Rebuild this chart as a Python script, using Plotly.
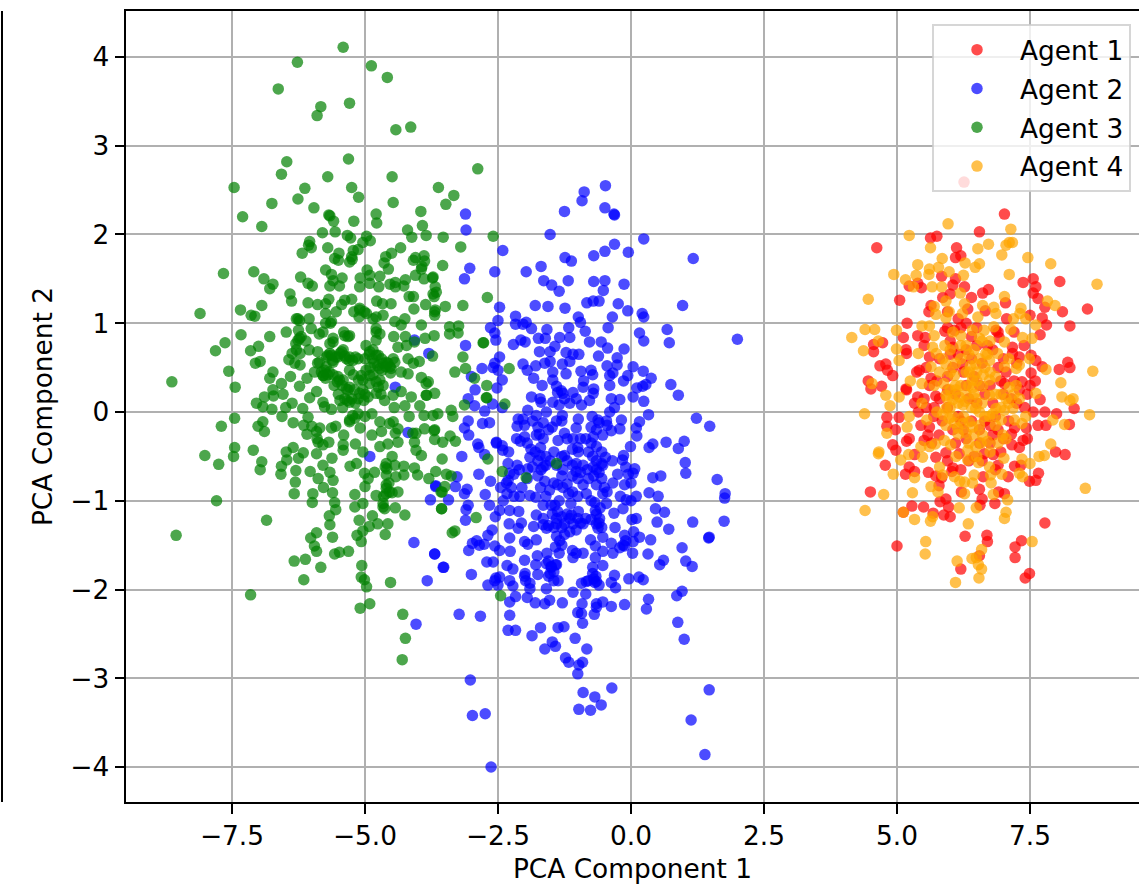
import plotly.graph_objects as go

agent_names = ["Agent 1", "Agent 2", "Agent 3", "Agent 4"]
agent_colors = ["rgb(255,0,0)", "rgb(0,0,255)", "rgb(0,128,0)", "rgb(255,165,0)"]
x_tick_values = [-7.5, -5.0, -2.5, 0.0, 2.5, 5.0, 7.5]
x_tick_labels = ["−7.5", "−5.0", "−2.5", "0.0", "2.5", "5.0", "7.5"]
y_tick_values = [-4, -3, -2, -1, 0, 1, 2, 3, 4]
y_tick_labels = ["−4", "−3", "−2", "−1", "0", "1", "2", "3", "4"]

agent1_points = [
(6.26,2.59),(7.02,2.23),(6.55,2.03),(5.63,1.96),(5.75,1.98),(4.62,1.85),(6.12,1.85),(6.10,1.74),(6.20,1.76),(5.84,1.53),
(6.10,1.50),(5.23,1.42),(5.39,1.45),(5.46,1.40),(6.05,1.43),(6.27,1.41),(6.0,1.33),(5.86,1.29),(6.40,1.29),(6.61,1.34),
(6.72,1.38),(7.37,1.46),(7.56,1.50),(7.61,1.41),(8.06,1.47),(7.56,1.34),(7.65,1.28),(5.05,1.26),(7.04,1.23),(7.78,1.18),
(8.11,1.13),(8.58,1.16),(6.66,1.14),(5.64,1.20),(5.60,1.13),(6.33,1.16),(5.95,1.13),(5.19,1.0),(7.06,1.05),(7.5,1.09),
(7.73,1.06),(7.81,.98),(8.25,.97),(7.69,.87),(5.90,.91),(6.08,.92),(5.39,.86),(5.53,.84),(5.12,.84),(4.56,.76),
(4.73,.78),(4.56,.68),(5.17,.70),(5.18,.66),(5.51,.75),(6.05,.73),(5.61,.62),(7.17,.73),(7.39,.75),(7.17,.66),
(7.30,.62),(7.52,.64),(7.61,.58),(8.05,.48),(8.21,.56),(8.25,.50),(7.73,.51),(6.23,.54),(6.86,.92),(6.92,.84),
(4.79,.54),(4.68,.52),(4.82,.47),(4.92,.41),(5.37,.45),(5.42,.47),(7.52,.44),(4.46,.35),(4.71,.29),(4.51,.26),
(5.17,.26),(5.61,.30),(7.02,.32),(7.35,.34),(5.64,.38),(5.18,.25),(5.39,.17),(5.33,.10),(5.51,.15),(5.73,.18),
(7.69,.14),(7.56,.0),(7.78,0),(8.0,-.02),(8.33,.04),(8.24,-.14),(4.81,-.06),(5.04,-.06),(4.81,-.16),(4.97,-.20),
(5.69,-.05),(5.61,-.17),(5.23,-.30),(5.18,-.33),(5.58,-.26),(5.51,-.32),(4.92,-.37),(4.98,-.43),(4.78,-.60),(5.33,-.48),
(5.23,-.62),(5.16,-.70),(5.33,-.67),(5.73,-.51),(5.92,-.46),(5.79,-.26),(5.59,-.68),(5.73,-.72),(5.84,-.74),(5.79,-.83),
(6.05,-.63),(6.03,-.67),(6.21,-.90),(6.17,-.47),(6.64,-.47),(6.81,-.48),(6.90,-.60),(6.62,-.73),(6.55,-.87),(7.09,-.73),
(7.21,-.61),(7.33,-.60),(7.66,-.69),(7.49,-.78),(7.61,-.77),(7.98,-.45),(8.16,-.48),(7.37,-.32),(7.16,-.37),(7.21,-.18),
(7.43,-.18),(6.80,-.26),(6.91,-.90),(7.02,-.92),(6.84,-1.03),(6.60,-.98),(6.56,-1.05),(4.5,-.90),(5.81,-1.01),(5.92,-.98),
(5.97,-1.07),(5.28,-1.06),(5.50,-1.07),(5.12,-1.13),(5.68,-1.14),(5.88,-1.16),(6.0,-1.18),(7.78,-1.25),(6.28,-1.40),(6.69,-1.39),
(6.70,-1.46),(7.34,-1.45),(7.22,-1.52),(5.0,-1.51),(7.22,-1.64),(6.55,-1.62),(6.20,-1.77),(7.49,-1.82),(7.41,-1.87),
(6.4,.6),(6.6,.55),(6.9,.5),(6.3,.3),(6.1,.2),(6.75,.3),(7.0,.2),(7.15,.15),(6.5,.1),(6.2,-.1),(6.85,-.05),(7.1,-.1),
(6.55,-.2),(6.3,-.3),(5.95,.05),(6.05,-.2),(5.8,.15),(7.25,.1),(7.4,.05),(6.9,.9),(6.7,.75),(6.4,.85),(6.2,.95),(6.0,.8),
(6.55,-.35),(6.75,-.35),(7.0,-.3),(6.35,-.55),(5.95,.4),(6.15,.65),
(5.95,.25),(6.05,.5),(6.25,.45),(6.35,.15),(6.45,.4),(6.55,.3),(6.65,.2),(6.8,.1),(6.95,.35),(7.05,.45),(7.2,.35),(7.3,.25),
(7.45,.2),(6.15,-.05),(6.25,-.2),(6.4,-.1),(6.65,-.1),(6.75,-.15),(6.9,-.2),(7.15,-.25),(7.3,-.4),(5.85,-.1),(5.7,.05),(5.75,.35),
(5.55,.5),(5.8,.6),(6.0,.65),(6.3,.7),(6.5,.75),(6.8,.7),(7.0,.6),(7.25,.55),(6.45,-.5),(6.6,-.55),(6.95,-.45),(6.85,-.65),
(6.2,-.65),(6.1,-.35),(5.95,-.55),(5.65,-.35),(5.45,-.15),(5.4,.0),(5.55,.05),(7.5,.3),(7.6,.35),(7.65,-.15),(7.45,-.3),(7.8,-.15),
(6.15,1.05),(6.3,1.0),(6.5,.95),(5.95,.95),(7.2,.9),
]

agent2_points = [
(-.48,2.55),(-.88,2.48),(-.92,2.38),(-.49,2.30),(-.32,2.23),(-.31,2.22),(-1.25,2.26),(-3.11,2.23),(-3.10,2.05),(-1.52,2.0),
(.24,1.95),(-.31,1.89),(-.49,1.81),(-.05,1.80),(-2.41,1.82),(-.70,1.76),(-1.24,1.74),(-1.12,1.70),(1.17,1.73),(-1.69,1.64),
(-3.03,1.62),(-2.56,1.58),(-1.97,1.58),(-3.13,1.50),(-1.64,1.48),(-1.18,1.48),(-.70,1.47),(-.49,1.48),(-1.49,1.43),(-.13,1.44),
(-1.35,1.36),(-.52,1.37),(-.60,1.25),(-.71,1.25),(-.83,1.23),(-.24,1.22),(-1.80,1.20),(-1.56,1.19),(-1.24,1.17),(-2.47,1.18),
(.97,1.20),(-.06,1.14),(.21,1.11),(.24,1.07),(-2.17,1.08),(-.99,1.07),(-.35,1.07),(-2.5,1.03),(-1.97,1.01),(-2.17,.99),
(-2.03,.99),(-.95,1.01),(-2.64,.95),(-1.87,.94),(-1.58,.93),(-1.17,.95),(-.43,.95),(.68,.93),(-.86,.91),(.16,.89),
(-2.56,.89),(-2.54,.81),(-1.15,.84),(-1.34,.84),(-1.74,.83),(-1.61,.83),(-2.07,.81),(-1.99,.79),(-2.21,.76),(-.78,.79),
(-.56,.79),(-.44,.72),(.24,.80),(.72,.78),(2.0,.82),(-3.11,.75),(-1.43,.74),(-1.72,.68),(-1.52,.68),(-1.22,.67),
(-1.09,.65),(-.98,.65),(-.13,.71),(-.61,.63),(-.26,.61),(-2.47,.62),(-2.56,.55),(-2.59,.50),(-2.5,.47),(-2.80,.49),
(-2.03,.54),(-1.79,.52),(-1.95,.47),(-1.62,.55),(-1.52,.57),(-1.29,.54),(-1.15,.57),(-.45,.52),(-.26,.53),(.04,.51),
(-1.47,.45),(-1.22,.43),(-.94,.46),(-.75,.47),(-.72,.42),(-.40,.41),(-.34,.44),(.23,.46),(-.06,.41),(-3.0,.40),
(.38,.38),(-.14,.35),(-1.83,.38),(-1.47,.36),(-2.42,.36),(-.89,.35),(-1.67,.30),(-1.40,.29),(-.40,.30),(.11,.27),
(.22,.29),(.28,.31),(.75,.31),(-2.93,.25),(-2.52,.27),(-.90,.28),(-.70,.26),(-1.31,.24),(-1.28,.21),(-1.09,.22),
(-.71,.21),(.89,.19),(-1.87,.17),(-1.71,.15),(-1.69,.11),(-1.47,.11),(-1.35,.08),(-1.03,.15),(-.93,.08),(-.78,.13),
(-.37,.15),(-.21,.14),(.04,.17),(.24,.12),(-.31,.05),(-3.06,.15),(-2.94,.07),(-2.6,.09),(-2.42,.05),(-1.94,.02),
(-2.75,.01),(.33,-.03),(1.23,-.07),(1.48,-.16),(.16,-.11),(-.18,-.09),(-.46,-.10),(-.62,-.09),(-.73,-.05),(-.99,-.08),
(-1.29,-.04),(-1.59,0),(-1.78,-.04),(-2.12,-.08),(-2.03,-.08),(-3.06,-.10),(-2.79,-.13),(-2.66,-.12),(-3.13,-.18),(-3.05,-.26),
(-2.14,-.16),(-1.75,-.17),(-1.48,-.17),(-1.25,-.24),(-1.03,-.18),(-.75,-.17),(-.37,-.21),(-.21,-.19),(.10,-.18),(.11,-.27),
(-.53,-.26),(-.71,-.28),(-2,-.28),(-1.78,-.26),(-2.08,-.33),(-2.53,-.34),(-2.42,-.38),(-2.88,-.36),(-2.86,-.40),(-1.37,-.32),
(-1.09,-.30),(-.65,-.39),(-.99,-.45),(-.01,-.39),(.34,-.40),(.41,-.36),(.66,-.34),(.89,-.41),(1.0,-.33),(1.02,-.57),
(-3.18,-.5),(-2.75,-.48),(-1.9,-.51),(-1.71,-.49),(-1.25,-.49),(-1.03,-.58),(-.14,-.49),(-.16,-.54),(-.48,-.51),(-2.31,-.58),
(-2.14,-.6),(-1.65,-.62),(-.71,-.62),(-.53,-.60),(.07,-.64),(1.03,-.69),(1.62,-.76),(.41,-.74),(.56,-.72),(1.77,-.92),
(1.76,-.97),(-2.86,-.70),(-2.64,-.78),(-3.27,-.73),(-2.34,-.80),(-2.28,-.69),(-2.33,-.92),(-2.74,-.93),(-3.13,-.92),(-3.08,-.87),
(-3.30,-.84),(-3.67,-.84),(-3.43,-.99),(-2.09,-.95),(-1.90,-.94),(-1.79,-.96),(-1.53,-.88),(-1.45,-.80),(-1.20,-.81),(-1.17,-.92),
(-.84,-.92),(-.90,-.82),(-.65,-.82),(-.53,-.92),(-.46,-1.03),(-.34,-.80),(-.12,-.82),(.04,-.69),(.10,-.95),(.34,-.91),
(.51,-.95),(-.09,-.99),(-.65,-.65),(-1.03,-.67),(-1.28,-.65),(-1.69,-.65),(-1.94,-.64),(-2.66,-1.05),(-3.06,-1.05),(-3.10,-1.10),
(-2.47,-1.11),(-2.28,-1.11),(-2.11,-1.12),(-1.78,-1.16),(-1.43,-1.05),(-1.13,-1.03),(-1.65,-1.05),(-.67,-1.11),(-.99,-1.12),(-1.12,-1.16),
(-.15,-1.09),(-.32,-1.14),(.46,-1.09),(.63,-1.13),(-2.55,-1.18),(-3.11,-1.22),(-2.29,-1.26),(-2.06,-1.25),(-1.83,-1.29),(-1.65,-1.27),
(-1.59,-1.31),(-1.40,-1.26),(-1.25,-1.26),(-1.09,-1.26),(-1.03,-1.33),(-.90,-1.26),(-.75,-1.21),(-.59,-1.20),(-.65,-1.26),(.02,-1.21),
(.49,-1.24),(1.16,-1.24),(1.75,-1.23),(.71,-1.32),(-2.61,-1.33),(-2.69,-1.39),(-2.12,-1.31),(-.62,-1.31),(-.53,-1.41),(-.12,-1.39),
(.16,-1.41),(.37,-1.44),(1.47,-1.41),(1.46,-1.42),(-2.28,-1.42),(-1.78,-1.44),(-1.40,-1.40),(-1.34,-1.45),(-2.0,-1.46),(-1.94,-1.49),
(-2.98,-1.48),(-2.76,-1.49),(-2.56,-1.51),(-3.05,-1.56),(-2.47,-1.56),(-2.27,-1.57),(-.76,-1.44),(-.67,-1.51),(-.37,-1.48),(-.21,-1.53),
(-.12,-1.51),(.04,-1.46),(.03,-1.59),(-.34,-1.59),(-.53,-1.57),(-1.10,-1.56),(-1.03,-1.59),(-.9,-1.59),(-1.09,-1.64),(-.67,-1.64),
(-1.35,-1.59),(-1.58,-1.59),(-1.76,-1.62),(.32,-1.60),(.96,-1.53),(1.03,-1.68),(.61,-1.67),(.54,-1.72),(1.15,-1.74),(-3.69,-1.60),
(-2.71,-1.69),(-2.59,-1.69),(-2.0,-1.67),(-3.52,-1.75),(-2.33,-1.73),(-2.22,-1.77),(-1.79,-1.72),(-1.59,-1.71),(-1.50,-1.74),(-1.42,-1.72),
(-1.52,-1.82),(-1.75,-1.83),(-1.99,-1.82),(-.53,-1.73),(-3.0,-1.83),(-2.47,-1.86),(-2.56,-1.90),(-2.28,-1.90),(-1.98,-1.90),(-2.69,-1.95),
(-2.22,-1.96),(-1.90,-1.99),(-1.59,-1.99),(-1.37,-1.90),(-.93,-1.93),(-.84,-1.91),(-.66,-1.85),(-.65,-1.91),(-.31,-1.84),(-.37,-1.92),
(-.29,-1.98),(-.04,-1.88),(.15,-1.86),(.23,-1.89),(-1.09,-2.03),(-.85,-2.05),(.96,-2.02),(.86,-2.07),(.33,-2.11),(.29,-2.22),
(-.12,-2.17),(-.37,-2.19),(-.53,-2.14),(-.65,-2.16),(-.65,-2.20),(-.92,-2.16),(-1.29,-2.15),(-1.53,-2.12),(-1.62,-2.16),(-1.80,-2.15),
(-1.95,-2.09),(-2.17,-2.08),(-2.28,-2.14),(-1.0,-2.26),(-.93,-2.27),(-.69,-2.28),(-3.23,-2.28),(-2.83,-2.30),(-2.28,-2.29),(-.91,-2.38),
(.88,-2.37),(1.0,-2.56),(-1.70,-2.43),(-1.37,-2.43),(-1.26,-2.42),(-2.31,-2.46),(-2.17,-2.46),(-1.86,-2.52),(-1.05,-2.55),(-1.48,-2.59),
(-1.42,-2.64),(-1.62,-2.67),(-.83,-2.67),(-1.23,-2.77),(-1.17,-2.82),(-.91,-2.82),(-.98,-2.85),(-1.0,-2.95),(-3.02,-3.02),(-.36,-3.11),
(-.90,-3.16),(1.47,-3.13),(-.68,-3.21),(-.56,-3.30),(-.98,-3.35),(-.76,-3.36),(1.13,-3.47),(-2.98,-3.42),(-2.74,-3.40),(1.39,-3.86),
(-2.63,-4.0),(-4.43,.28),(-4.07,.81),(-3.80,.66),(-4.19,-.23),(-4.91,-.50),(-3.77,-.99),(-3.67,-.83),(-4.08,-1.47),(-3.69,-1.60),
(-3.53,-1.75),(-3.83,-1.90),(-4.04,-2.39),(-2.53,-.35),(-2.41,-.43),(-2.31,-.77),(-2.54,-1.87),
(-1.8,-.45),(-1.75,-.55),(-1.6,-.6),(-1.45,-.45),(-1.4,-.6),(-1.3,-.72),(-1.2,-.55),(-1.1,-.72),(-1.0,-.75),(-.9,-.6),
(-.8,-.75),(-.7,-.72),(-.6,-.68),(-.55,-.75),(-.5,-.85),(-.45,-.9),(-1.95,-.75),(-2.05,-.85),(-2.2,-.7),(-2.25,-.85),
(-1.7,-.85),(-1.6,-.95),(-1.5,-1.05),(-1.35,-1.0),(-1.2,-1.15),(-1.15,-1.2),(-1.0,-1.2),(-.95,-1.25),(-.85,-1.2),(-.65,-1.15),
(-.6,-1.25),(-.55,-1.3),(-1.65,-1.2),(-1.55,-1.28),(-1.45,-1.3),(-1.4,-1.2),(-1.3,-1.3),(-1.5,-1.75),(-1.45,-1.8),(-1.55,-1.68),
(-1.4,-1.72),(-.7,-1.88),(-.72,-1.82),(-.68,-1.92),(-.75,-.35),(-.85,-.3),(-.95,-.3),(-1.0,-.4),(-1.1,-.42),(-1.2,-.3),
(-1.3,-.1),(-1.4,-.1),(-1.55,-.2),(-1.65,-.3),(-1.7,-.4),(-.45,-.15),(-.55,-.45),(-.35,-.55),(-.25,-.7),(-.05,-.7),
(-.1,-.62),(0,-.8),(-2.3,-.45),(-2.15,-.3),(-1.85,-.1),(-2.0,-.15),(-2.2,-.95),(-2.4,-1.0),(-2.45,-.85),(-.4,.0),
(-1.15,.1),(-1.25,.15),(-1.38,.22),(-.2,-.95),(.0,-1.0),(-.3,-1.3),(.1,-1.2),(-.1,-1.45),(-.15,-1.5),(-2.0,-1.85),
(-1.9,-1.93),(-2.5,-1.95),(-2.9,-1.45),(-2.85,-1.5),
(-.8,-.45),(-.72,-.5),(-1.95,-.35),(-1.88,-.42),(-1.6,-.5),(-1.52,-.55),(-1.3,-.5),(-1.1,-.6),(-.95,-.68),(-.82,-.65),
(-.65,-.55),(-.55,-.58),(-1.85,-.62),(-1.75,-.72),(-1.62,-.78),(-1.38,-.82),(-1.28,-.85),(-1.1,-.9),(-1.0,-.95),(-.75,-1.0),
(-.68,-1.02),(-.58,-1.08),(-1.48,-1.15),(-1.38,-1.12),(-1.3,-1.18),(-1.25,-1.38),(-1.15,-1.35),(-1.42,-1.52),(-1.3,-1.5),(-.6,-.12),
(-.65,-.2),(-1.65,-.12),(-1.72,-.25),(-1.55,-1.85),(-1.45,-1.9),(-.72,-1.75),(-.8,-1.9),(-.6,-1.95),(.05,-1.35),(-2.1,-.65),
]

agent3_points = [
(-5.41,4.11),(-6.27,3.94),(-4.88,3.90),(-4.58,3.77),(-6.63,3.64),(-5.83,3.44),(-5.29,3.48),(-5.90,3.34),(-4.42,3.18),(-4.14,3.21),
(-5.31,2.85),(-6.47,2.82),(-6.57,2.68),(-2.88,2.74),(-5.70,2.65),(-4.49,2.65),(-7.46,2.53),(-6.13,2.52),(-5.25,2.53),(-3.62,2.53),
(-6.26,2.40),(-5.12,2.42),(-3.33,2.44),(-6.75,2.35),(-4.47,2.36),(-3.48,2.34),(-5.96,2.30),(-7.30,2.20),(-5.68,2.22),(-5.66,2.21),
(-3.95,2.26),(-4.79,2.23),(-5.59,2.15),(-5.21,2.15),(-4.78,2.13),(-6.94,2.09),(-3.92,2.10),(-4.20,2.05),(-5.80,2.02),(-5.56,2.03),
(-5.33,1.99),(-5.27,1.96),(-4.97,1.98),(-4.90,1.93),(-4.12,1.97),(-3.85,1.99),(-3.53,1.97),(-2.59,1.98),(-3.20,1.86),(-6.04,1.92),
(-6.06,1.88),(-6.01,1.85),(-5.70,1.85),(-6.18,1.79),(-5.04,1.91),(-5.13,1.83),(-5.22,1.82),(-4.33,1.85),(-4.50,1.79),(-5.49,1.79),
(-5.57,1.73),(-5.50,1.71),(-5.25,1.75),(-5.29,1.69),(-5.24,1.72),(-4.61,1.75),(-4.64,1.68),(-4.56,1.61),(-4.05,1.74),(-3.89,1.76),
(-4.09,1.71),(-3.88,1.70),(-3.93,1.64),(-3.94,1.61),(-3.54,1.65),(-7.66,1.56),(-7.09,1.58),(-6.90,1.50),(-6.73,1.44),(-6.79,1.39),
(-6.21,1.52),(-6.07,1.45),(-5.99,1.42),(-5.74,1.60),(-5.63,1.55),(-5.43,1.51),(-5.60,1.48),(-5.66,1.42),(-5.48,1.42),(-4.96,1.60),
(-4.91,1.54),(-5.09,1.51),(-4.72,1.53),(-5.10,1.41),(-4.91,1.45),(-4.74,1.41),(-4.43,1.46),(-4.53,1.44),(-4.43,1.41),(-4.24,1.49),
(-4.27,1.42),(-4.05,1.54),(-3.89,1.50),(-3.73,1.51),(-3.68,1.41),(-3.66,1.35),(-3.70,1.30),(-4.17,1.30),(-4.09,1.30),(-2.70,1.29),
(-6.41,1.33),(-6.38,1.25),(-6.94,1.20),(-6.07,1.23),(-5.89,1.21),(-5.68,1.27),(-5.74,1.22),(-5.38,1.26),(-5.25,1.27),(-5.44,1.21),
(-4.78,1.25),(-4.67,1.22),(-4.51,1.22),(-4.08,1.16),(-3.86,1.21),(-3.68,1.15),(-3.49,1.19),(-3.16,1.20),(-7.34,1.15),(-8.10,1.11),
(-7.14,1.09),(-7.07,1.08),(-6.26,1.05),(-6.05,1.05),(-5.74,1.11),(-5.54,1.13),(-5.74,1.00),(-5.63,1.02),(-5.21,1.13),(-5.10,1.15),
(-4.97,1.11),(-5.11,1.07),(-4.79,1.07),(-4.66,1.09),(-4.25,1.05),(-4.44,1.02),(-4.32,.98),(-3.94,.98),(-3.41,.96),(-3.24,.97),
(-3.25,.89),(-3.41,.88),(-7.33,.87),(-6.79,.85),(-6.48,.90),(-7.63,.78),(-7.81,.69),(-7.0,.74),(-7.15,.69),(-7.56,.46),
(-6.97,.57),(-7.06,.55),(-8.63,.34),(-7.44,.28),(-6.23,.83),(-6.30,.77),(-6.11,.80),(-6.37,.66),(-6.43,.59),(-6.22,.66),
(-6.32,.55),(-6.22,.53),(-6.73,.45),(-6.79,.38),(-6.40,.40),(-6.57,.32),(-6.23,.29),(-6.09,.38),(-6.73,.25),(-6.89,.17),
(-6.54,.20),(-6.72,.18),(-7.04,.10),(-6.92,.06),(-6.75,.03),(-6.37,.10),(-6.49,.05),(-6.17,.04),(-6.04,.16),(-5.91,.23),
(-5.79,.11),(-5.76,.06),(-5.63,.03),(-6.01,.94),(-5.86,.88),(-5.79,.90),(-5.60,.79),(-5.40,.90),(-5.29,.86),(-5.89,.68),
(-5.86,.56),(-5.63,.64),(-5.44,.68),(-5.60,.56),(-5.29,.62),(-5.13,.60),(-5.78,.41),(-5.67,.45),(-5.48,.36),(-5.58,.30),
(-5.29,.47),(-5.07,.41),(-5.32,.25),(-5.10,.21),(-5.47,.13),(-5.33,.13),(-5.18,.10),(-5.02,.13),(-4.79,.90),(-4.79,.81),
(-4.46,.85),(-4.24,.85),(-3.70,.86),(-3.87,.83),(-4.07,.79),(-4.38,.73),(-4.22,.75),(-4.91,.68),(-4.75,.64),(-4.66,.55),
(-4.53,.51),(-4.44,.56),(-4.19,.60),(-4.09,.55),(-3.98,.57),(-3.73,.63),(-3.16,.62),(-2.77,.78),(-3.31,.45),(-3.11,.49),
(-2.94,.38),(-2.71,.30),(-2.71,.16),(-3.13,.08),(-4.32,.45),(-4.19,.43),(-3.94,.39),(-3.81,.34),(-3.69,.21),(-3.84,.19),
(-4.13,.17),(-4.32,.23),(-4.72,.36),(-4.91,.32),(-4.79,.21),(-4.63,.13),(-4.47,.19),(-4.25,.07),(-3.97,.07),(-3.72,-.04),
(-3.63,-.02),(-3.38,.02),(-3.35,-.05),(-3.89,-.04),(-4.17,-.05),(-6.56,-.05),(-6.35,-.12),(-7.45,-.07),(-7.70,-.16),(-6.92,-.11),
(-7.01,-.16),(-6.89,-.22),(-6.07,-.06),(-6.15,-.15),(-6.0,-.16),(-5.85,-.18),(-6.09,-.25),(-5.90,-.30),(-5.79,-.37),(-5.68,-.34),
(-5.63,-.18),(-5.55,-.16),(-5.40,-.26),(-5.29,-.11),(-5.19,-.07),(-5.09,-.18),(-4.87,-.02),(-4.72,-.11),(-4.87,-.26),(-4.69,-.22),
(-4.47,-.11),(-4.38,-.19),(-4.43,-.24),(-4.38,-.34),(-4.57,-.36),(-4.72,-.39),(-4.04,-.24),(-4.07,-.34),(-3.88,-.19),(-3.69,-.20),
(-3.69,-.31),(-3.54,-.34),(-3.40,-.27),(-3.30,-.33),(-4.04,-.43),(-3.94,-.49),(-7.45,-.40),(-7.47,-.50),(-8.01,-.49),(-7.75,-.59),
(-7.10,-.43),(-6.94,-.56),(-6.97,-.65),(-6.58,-.70),(-6.57,-.61),(-6.48,-.45),(-6.35,-.40),(-6.16,-.46),(-6.25,-.52),(-6.47,-.54),
(-6.30,-.66),(-6.31,-.79),(-6.33,-.92),(-6.03,-.67),(-5.88,-.75),(-5.79,-.60),(-5.62,-.52),(-5.66,-.68),(-5.60,-.77),(-5.91,-.47),
(-5.78,-.85),(-5.98,-.92),(-5.61,-.91),(-5.41,-.37),(-5.41,-.43),(-5.18,-.36),(-5.04,-.45),(-5.16,-.58),(-5.28,-.61),(-5.01,-.69),
(-4.82,-.68),(-4.59,-.64),(-4.49,-.50),(-4.44,-.60),(-4.60,-.71),(-4.42,-.73),(-4.27,-.61),(-4.27,-.71),(-4.07,-.63),(-4.01,-.71),
(-3.55,-.53),(-3.67,-.67),(-3.80,-.75),(-3.47,-.70),(-3.38,-.72),(-3.55,-.90),(-3.50,-.84),(-4.94,-.75),(-5.19,-.93),(-5.0,-.84),
(-4.60,-.86),(-4.79,-.94),(-4.38,-.90),(-4.49,-.91),(-4.60,-.92),(-7.79,-1.00),(-5.99,-1.02),(-5.57,-1.02),(-5.55,-1.10),(-5.19,-1.07),
(-5.04,-1.03),(-4.66,-1.07),(-4.43,-1.08),(-4.25,-1.16),(-3.56,-1.09),(-2.91,-1.19),(-4.86,-1.17),(-5.11,-1.22),(-5.67,-1.17),(-5.66,-1.27),
(-4.57,-1.26),(-4.76,-1.26),(-4.92,-1.29),(-5.04,-1.34),(-5.15,-1.39),(-5.07,-1.46),(-4.62,-1.38),(-6.85,-1.22),(-8.55,-1.39),(-5.91,-1.36),
(-6.02,-1.42),(-5.61,-1.41),(-5.95,-1.51),(-5.91,-1.57),(-5.31,-1.57),(-5.48,-1.58),(-5.57,-1.60),(-6.12,-1.66),(-6.33,-1.68),(-5.83,-1.75),
(-6.15,-1.89),(-5.06,-1.73),(-5.07,-1.86),(-5.01,-1.89),(-4.97,-1.97),(-4.52,-1.92),(-7.15,-2.06),(-4.91,-2.16),(-5.09,-2.21),(-4.29,-2.28),
(-4.24,-2.55),(-4.30,-2.79),(-2.45,-2.07),(-3.72,1.52),(-3.72,1.33),(-2.78,.78),(-2.29,.49),(-2.72,.16),(-2.37,.09),(-3.70,-.21),
(-2.69,-.53),(-1.40,-.58),(-3.57,-.9),(-3.56,-1.09),(-3.31,-1.34),(-3.36,-1.36),(-1.97,-.74),(-2.42,-.67),
(-5.70,.64),(-5.61,.58),(-5.51,.62),(-5.41,.70),(-5.35,.60),(-5.23,.58),(-5.73,.51),(-5.79,.41),(-5.74,.38),(-5.51,.40),
(-5.41,.36),(-5.35,.26),(-5.29,.28),(-5.29,.11),(-5.38,.15),(-4.98,.75),(-4.85,.70),(-4.79,.64),(-4.69,.60),(-4.57,.55),
(-4.51,.49),(-4.61,.51),(-4.72,.49),(-4.83,.55),(-4.98,.47),(-5.04,.36),(-4.91,.41),(-4.79,.34),(-4.66,.30),(-5.04,.25),
(-4.94,.17),(-5.13,.15),(-5.23,-.04),(-5.13,-.02),(-5.29,-.09),(-6.29,.70),(-6.26,.81),(-6.20,.85),(-5.89,.55),(-5.82,.45),
(-5.38,.86),(-5.32,.85),(-5.60,.83),(-5.66,.77),(-4.79,.94),(-4.72,.88),(-4.47,.60),(-4.10,-.24),(-4.54,-.13),(-4.60,-.58),
(-4.60,-.82),(-4.54,-.90),(-4.66,-1.03),(-4.63,-1.09),(-5.91,-.22),(-5.88,-.34),(-3.85,.32),(-3.85,.19),(-6.23,1.03),(-6.29,1.05),
(-5.10,1.17),(-5.01,1.13),(-3.69,1.09),(-3.69,1.13),
(-5.72,.62),(-5.66,.66),(-5.55,.62),(-5.47,.66),(-5.38,.63),(-5.30,.58),(-5.18,.62),(-5.76,.47),(-5.7,.42),(-5.6,.42),
(-5.52,.34),(-5.43,.3),(-5.22,.42),(-5.12,.36),(-5.0,.6),(-4.92,.65),(-4.86,.6),(-4.76,.52),(-4.68,.47),(-4.6,.56),
(-4.52,.44),(-4.9,.5),(-4.85,.42),(-4.75,.28),(-4.7,.2),(-5.0,.2),(-5.2,.25),(-5.25,.15),(-5.42,.05),(-5.5,.2),
(-4.62,-.62),(-4.55,-.8),(-4.65,-.95),(-5.65,1.0),(-4.85,1.05),(-6.25,.92),(-6.05,.7),(-5.95,.45),(-5.0,-.05),(-4.45,.05),
]

agent4_points = [
(5.96,2.12),(5.23,1.99),(5.63,1.85),(7.14,2.06),(7.11,1.91),(7.17,1.91),(7.05,1.88),(6.72,1.89),(6.52,1.84),(6.97,1.77),
(5.85,1.73),(7.46,1.74),(7.89,1.67),(5.39,1.66),(6.28,1.68),(6.55,1.67),(6.47,1.63),(5.78,1.63),(5.61,1.61),(5.60,1.55),
(5.98,1.58),(4.94,1.55),(5.36,1.54),(5.16,1.49),(6.25,1.54),(7.11,1.55),(5.66,1.41),(5.84,1.41),(5.31,1.41),(8.76,1.44),
(4.46,1.27),(6.19,1.34),(7.02,1.30),(7.83,1.25),(7.97,1.20),(5.92,1.25),(6.27,1.22),(5.70,1.19),(5.73,1.10),(6.61,1.20),
(6.82,1.18),(6.86,1.11),(7.33,1.17),(7.31,1.11),(5.98,1.13),(6.23,1.11),(5.92,1.06),(6.52,1.07),(7.19,1.05),(7.42,1.05),
(7.61,.98),(5.47,.97),(5.61,.97),(4.40,.93),(4.58,.93),(4.99,.92),(4.15,.84),(4.65,.80),(5.70,.86),(6.82,.96),
(7.14,.93),(7.36,.84),(7.54,.83),(4.37,.69),(4.99,.71),(5.40,.66),(5.04,.58),(7.80,.48),(8.68,.46),(8.08,.33),
(4.53,.32),(5.25,.35),(5.47,.32),(6.20,.86),(6.42,.92),(6.64,.92),(6.55,.83),(6.30,.75),(6.67,.66),(6.89,.66),
(7.02,.79),(5.86,.60),(5.92,.54),(5.64,.51),(6.08,.41),(6.36,.45),(6.48,.54),(6.74,.58),(7.02,.51),(7.24,.49),
(7.30,.53),(7.49,.60),(5.88,.32),(6.42,.36),(6.74,.36),(7.24,.30),(7.11,.28),(5.74,.66),(5.67,.73),(4.79,.19),
(5.04,.17),(4.87,.07),(4.39,-.02),(5.23,-.05),(5.47,.10),(5.56,-.09),(5.19,-.17),(4.81,-.24),(4.65,-.47),(4.66,-.45),
(5.07,-.54),(5.22,-.48),(5.48,-.51),(5.45,-.39),(5.61,-.39),(5.72,-.36),(6.01,-.37),(5.89,-.32),(4.93,-.70),(5.33,-.74),
(6.11,-.50),(6.33,-.54),(6.33,-.43),(5.80,-.62),(5.86,-.71),(6.08,-.73),(6.18,-.78),(5.64,-.84),(5.77,-.90),(6.27,-.79),
(6.45,-.71),(6.42,-.80),(6.27,-.92),(6.74,-.62),(6.76,-.71),(6.77,-.80),(6.53,-.57),(7.01,-.52),(6.97,-.70),(7.30,-.69),
(7.35,-.53),(7.50,-.58),(7.36,-.73),(7.67,-.50),(7.77,-.49),(7.89,-.36),(8.15,-.14),(7.93,-.09),(8.62,-.03),(8.10,.17),
(8.25,.13),(8.31,.15),(8.54,-.86),(4.75,-.93),(5.29,-.91),(4.40,-1.11),(5.12,-1.13),(5.33,-1.21),(5.67,-1.18),(5.63,-1.23),
(6.17,-1.08),(6.49,-1.08),(6.81,-.93),(7.08,-.99),(7.05,-1.13),(7.02,-1.20),(6.34,-1.26),(7.54,-1.46),(5.54,-1.46),(5.53,-1.60),
(6.13,-1.68),(6.41,-1.65),(6.49,-1.64),(6.59,-1.55),(6.53,-1.72),(6.59,-1.77),(6.54,-1.87),(6.10,-1.92),(5.86,-.03),(5.98,-.07),
(5.92,-.15),(6.24,-.13),(6.36,-.11),(6.42,-.17),(6.14,-.18),(6.30,-.24),(6.61,-.26),(6.58,-.35),(6.70,-.33),(6.48,-.39),
(6.99,-.26),(7.05,-.30),(6.96,-.09),(6.74,-.05),(7.21,-.09),(7.35,-.13),(7.02,.02),(6.86,.04),(7.18,.04),(7.42,-.05),
(7.61,.21),(7.30,.15),(6.74,.19),(6.48,.15),(6.17,.17),(5.92,.19),(6.24,.08),(6.48,.04),(5.92,.04),(6.11,.25),
(6.42,.27),(6.61,.29),(7.05,.15),(6.05,.14),(6.3,.2),(6.5,.45),(6.6,.1),(6.2,.3),(6.85,.2),(6.0,.05),
(6.1,.55),(6.2,.6),(6.35,.65),(6.45,.7),(6.55,.6),(6.65,.5),(6.75,.45),(6.85,.4),(6.95,.2),(6.1,.3),
(6.0,.25),(5.95,.15),(6.15,.1),(6.35,.3),(6.45,.2),(6.55,.0),(6.65,-.05),(6.85,-.15),(6.95,.05),(7.1,.1),
(7.2,.2),(6.25,-.05),(6.15,-.25),(6.05,-.05),(6.35,-.35),(6.45,-.25),(6.5,-.5),(6.75,-.45),(6.9,-.35),(6.2,.75),
(6.0,.7),(5.9,.75),(6.05,.9),(6.75,.8),(6.6,.8),(7.1,.6),(6.7,.65),(5.8,.45),(5.7,.3),(5.75,.0),
(6.3,.45),(6.38,.52),(6.0,.45),(6.5,.35),(6.62,.42),(6.28,.12),(6.4,.05),(6.08,-.12),(6.55,-.15),(6.8,-.02),
]

agent_points = [agent1_points, agent2_points, agent3_points, agent4_points]

W, H = 1139, 888
text_size = 26.4
fig = go.Figure()
for name, color, points in zip(agent_names, agent_colors, agent_points):
    fig.add_trace(go.Scatter(
        x=[p[0] for p in points], y=[p[1] for p in points],
        name=name, legendgroup=name, mode="markers",
        marker=dict(color=color, size=11.5, opacity=0.7, line=dict(width=0)),
    ))

axis_font = dict(family="DejaVu Sans", size=text_size, color="black")
fig.update_layout(
    width=W, height=H, autosize=False,
    margin=dict(l=0, r=0, t=0, b=0),
    paper_bgcolor="white", plot_bgcolor="white",
    font=axis_font,
    legend=dict(
        x=1131 / W, xanchor="right", y=1 - 24 / H, yanchor="top",
        bgcolor="rgba(255,255,255,0.8)", bordercolor="rgba(204,204,204,0.8)", borderwidth=2,
        font=axis_font, itemwidth=76, entrywidth=107, entrywidthmode="pixels", tracegroupgap=1.5,
    ),
    xaxis=dict(
        domain=[126 / W, 1], range=[-9.492, 9.549], tickvals=x_tick_values, ticktext=x_tick_labels,
        showgrid=True, gridcolor="#b0b0b0", gridwidth=2, zeroline=False,
        showline=True, linecolor="black", linewidth=2, mirror=True,
        ticks="outside", ticklen=9.5, tickwidth=2, tickcolor="black",
        title=dict(text="PCA Component 1", font=axis_font, standoff=9), automargin=False,
    ),
    yaxis=dict(
        domain=[1 - 802 / H, 1 - 11 / H], range=[-4.394, 4.518], tickvals=y_tick_values, ticktext=y_tick_labels,
        showgrid=True, gridcolor="#b0b0b0", gridwidth=2, zeroline=False,
        showline=True, linecolor="black", linewidth=2, mirror=True,
        ticks="outside", ticklen=9.5, tickwidth=2, tickcolor="black",
        title=dict(text="PCA Component 2", font=axis_font, standoff=10), automargin=False,
    ),
    shapes=[dict(type="line", xref="paper", yref="paper", x0=2 / W, x1=2 / W, y0=1 - 802 / H, y1=1 - 11 / H,
                 line=dict(color="black", width=2))],
)
fig.write_html("out.html", config=dict(displayModeBar=False), post_script="document.body.style.margin='0';")
